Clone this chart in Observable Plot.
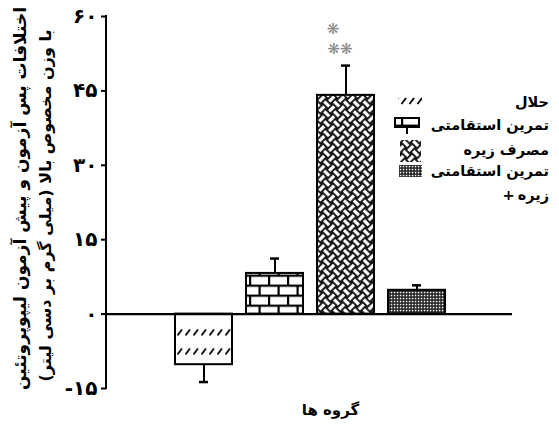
<!DOCTYPE html>
<html><head><meta charset="utf-8">
<script src="https://cdn.jsdelivr.net/npm/d3@7"></script>
<script src="https://cdn.jsdelivr.net/npm/@observablehq/plot@0.6"></script>
<style>
body{margin:0;background:#fff;}
#wrap{position:relative;width:559px;height:430px;}
#chart svg{font-family:"DejaVu Sans";}
.lg{position:absolute;right:10px;font-family:"DejaVu Sans";font-weight:bold;font-size:14.5px;text-align:right;white-space:nowrap;line-height:20px;}
.lg span{display:inline-block;}
</style>
</head><body><div id="wrap"><div id="chart"></div></div>
<script>
// ---- data ----
const groups = ["حلال", "تمرین استقامتی", "مصرف زیره", "تمرین استقامتی + زیره"];
const means = [-10.2, 8.2, 44.1, 4.8];
const errors = [3.5, 3.0, 6.0, 1.0];
const yTicks = [-15, 0, 15, 30, 45, 60];
const yTickLabels = ["-۱۵", "۰", "۱۵", "۳۰", "۴۵", "۶۰"];
const yTitleLines = ["اختلافات پس آزمون و پیش آزمون لیپوپروتئین", "با وزن مخصوص بالا (میلی گرم بر دسی لیتر)"];
const xTitle = "گروه ها";
const legendLines = [["حلال"], ["تمرین استقامتی"], ["مصرف زیره"], ["تمرین استقامتی"], ["+", "زیره"]];
const starGroup = "مصرف زیره";
const starValues = [57.5, 53.5];
const starLabels = ["❋", "❋❋"];

// ---- styling ----
const patternIds = ["pHatch", "pBrick", "pWeave", "pDots"];
const RLM = "\u200F";
const data = groups.map((g, i) => ({group: g, mean: means[i], err: errors[i], pat: `url(#${patternIds[i]})`}));
const stars = starValues.map((v, i) => ({group: starGroup, y: v, text: starLabels[i]}));
const errEnd = d => d.mean + Math.sign(d.mean) * d.err;

const plot = Plot.plot({
  width: 559, height: 430,
  marginLeft: 106, marginRight: 47, marginTop: 16, marginBottom: 42,
  style: {fontFamily: "DejaVu Sans", fontWeight: "bold", background: "#fff", color: "#000", overflow: "visible"},
  x: {domain: groups, range: [167, 453], paddingInner: 0.2, paddingOuter: 0.1, axis: null},
  y: {domain: [-15, 60], label: null},
  color: {type: "identity"},
  marks: [
    Plot.axisY(yTicks, {tickFormat: d => yTickLabels[yTicks.indexOf(d)], tickSize: 5, tickPadding: 4, strokeWidth: 2, fontSize: 20, fontWeight: "bold", label: null}),
    Plot.barY(data, {x: "group", y: "mean", fill: d => d.pat, stroke: "#000", strokeWidth: 2}),
    Plot.ruleY([0], {strokeWidth: 2.2}),
    Plot.ruleX(data, {x: "group", y1: "mean", y2: errEnd, strokeWidth: 2}),
    Plot.tickY(data, {x: "group", y: errEnd, insetLeft: 24, insetRight: 24, strokeWidth: 2.5}),
    Plot.text(stars.slice(0, 1), {x: "group", y: "y", text: "text", dx: -13, fill: "#888", fontSize: 15}),
    Plot.text(stars.slice(1), {x: "group", y: "y", text: "text", dx: -6, fill: "#888", fontSize: 15}),
    Plot.text([yTitleLines[0]], {text: d => RLM + d + RLM, frameAnchor: "left", textAnchor: "middle", rotate: -90, dx: -86, dy: -4, fontSize: 17, fontWeight: "bold"}),
    Plot.text([yTitleLines[1]], {text: d => RLM + d + RLM, frameAnchor: "left", textAnchor: "middle", rotate: -90, dx: -61, dy: 3, fontSize: 16, fontWeight: "bold"}),
    Plot.text([xTitle], {text: d => d, frameAnchor: "bottom", dy: 26, dx: 21, fontSize: 15, fontWeight: "bold"})
  ]
});

// ---- patterns ----
const svg = d3.select(plot);
const defs = svg.insert("defs", ":first-child");
const ys = plot.scale("y");
function hatch(id, y0) {
  const p = defs.append("pattern").attr("id", id).attr("patternUnits", "userSpaceOnUse")
    .attr("width", 8).attr("height", 57).attr("y", y0);
  p.append("rect").attr("width", 8).attr("height", 57).attr("fill", "#fff");
  [10, 29].forEach(o => p.append("line").attr("x1", 1.5).attr("y1", o + 3).attr("x2", 6).attr("y2", o - 3)
    .attr("stroke", "#000").attr("stroke-width", 1.8));
}
hatch("pHatch", ys.apply(-3.8) - 10);
hatch("pHatchL", 91);
{
  const p = defs.append("pattern").attr("id", "pBrick").attr("patternUnits", "userSpaceOnUse")
    .attr("width", 19).attr("height", 20).attr("x", 2).attr("y", ys.apply(0) + 1);
  p.append("rect").attr("width", 19).attr("height", 20).attr("fill", "#fff");
  p.append("rect").attr("y", 0).attr("width", 19).attr("height", 2.2).attr("fill", "#000");
  p.append("rect").attr("y", 10).attr("width", 19).attr("height", 2.2).attr("fill", "#000");
  p.append("rect").attr("x", 0).attr("y", 0).attr("width", 2.2).attr("height", 10).attr("fill", "#000");
  p.append("rect").attr("x", 9.5).attr("y", 10).attr("width", 2.2).attr("height", 10).attr("fill", "#000");
}
{
  const s = 7;
  const p = defs.append("pattern").attr("id", "pWeave").attr("patternUnits", "userSpaceOnUse")
    .attr("width", 2 * s).attr("height", 2 * s).attr("patternTransform", "rotate(45)");
  p.append("rect").attr("width", 2 * s).attr("height", 2 * s).attr("fill", "#111");
  const line = (x1, y1, x2, y2) => p.append("line").attr("x1", x1).attr("y1", y1).attr("x2", x2).attr("y2", y2)
    .attr("stroke", "#fff").attr("stroke-width", 3.3);
  const c = s / 2;
  line(0, c, s, c);
  line(s + c, 0, s + c, s);
  line(c, s, c, 2 * s);
  line(s, s + c, 2 * s, s + c);
}
{
  const p = defs.append("pattern").attr("id", "pDots").attr("patternUnits", "userSpaceOnUse")
    .attr("width", 3).attr("height", 3);
  p.append("rect").attr("width", 3).attr("height", 3).attr("fill", "#222");
  p.append("rect").attr("x", 0.8).attr("y", 0.8).attr("width", 1.5).attr("height", 1.5).attr("fill", "#fff");
}

// ---- y axis line ----
svg.append("line").attr("x1", 106).attr("x2", 106).attr("y1", ys.apply(60) - 1).attr("y2", ys.apply(-15) + 1)
  .attr("stroke", "#000").attr("stroke-width", 2);

// ---- legend swatches ----
const lg = svg.append("g");
lg.append("rect").attr("x", 398).attr("y", 96).attr("width", 24).attr("height", 10).attr("fill", "url(#pHatchL)");
lg.append("rect").attr("x", 395).attr("y", 118).attr("width", 24).attr("height", 9).attr("fill", "url(#pBrick)").attr("stroke", "#000").attr("stroke-width", 2);
lg.append("line").attr("x1", 407).attr("x2", 407).attr("y1", 127).attr("y2", 134).attr("stroke", "#000").attr("stroke-width", 2);
lg.append("rect").attr("x", 400).attr("y", 140).attr("width", 21).attr("height", 22).attr("fill", "url(#pWeave)");
lg.append("rect").attr("x", 399).attr("y", 165).attr("width", 23).attr("height", 12).attr("fill", "url(#pDots)");

const wrap = document.getElementById("wrap");
document.getElementById("chart").appendChild(plot);
// ---- legend texts (HTML, right aligned) ----
const legendY = [102, 125, 150, 171, 195];
legendLines.forEach((parts, i) => {
  const d = document.createElement("div");
  d.className = "lg";
  d.style.top = (legendY[i] - 10) + "px";
  parts.forEach((t, k) => {
    const s = document.createElement("span");
    s.dir = "rtl";
    s.textContent = t;
    if (k > 0) s.style.marginLeft = "3px";
    d.appendChild(s);
  });
  wrap.appendChild(d);
});
</script>
</body></html>
